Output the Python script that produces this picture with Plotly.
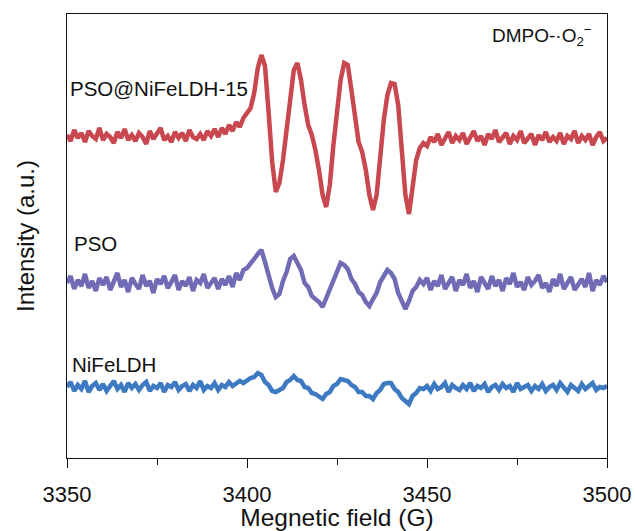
import numpy as np
import plotly.graph_objects as go

# Magnetic field axis (G), 1 G steps
field = list(range(3350, 3501))

# Intensity (a.u.)
red = [
    323,317,328,320,325,316,327,322,319,330,
    318,324,321,315,326,320,329,318,323,317,
    325,321,314,327,319,324,330,318,322,316,
    326,320,325,317,328,321,319,324,318,327,
    322,329,321,330,324,333,327,336,331,340,
    345,350,365,390,403,392,346,296,266,275,
    298,328,363,388,395,378,353,333,323,308,
    288,263,251,273,313,348,378,395,393,368,
    338,316,306,288,263,248,263,303,338,363,
    375,374,353,308,263,244,268,298,310,315,
    312,321,316,324,313,320,326,315,322,318,
    325,314,320,327,317,322,313,324,319,328,
    316,321,325,314,322,318,327,315,320,324,
    313,323,318,326,316,321,317,325,314,322,
    319,327,315,322,318,324,313,321,326,317,
    320,
]
purple = [
    175,182,169,178,172,184,170,177,167,180,
    173,181,168,176,185,171,178,166,180,174,
    169,183,172,177,165,179,174,182,170,176,
    183,168,177,172,181,167,178,175,184,170,
    176,180,169,179,173,182,171,185,178,188,
    190,194,199,204,208,196,182,170,161,164,
    177,186,199,202,195,188,175,171,162,159,
    156,151,160,166,178,186,195,193,189,179,
    174,166,163,156,152,159,165,176,182,188,
    185,179,165,156,149,157,167,171,178,174,
    180,168,177,172,183,169,176,181,167,178,
    173,184,170,177,166,181,175,169,182,172,
    178,167,180,174,185,171,176,168,181,173,
    177,183,170,175,166,179,172,184,169,176,
    181,168,174,179,171,185,167,178,173,182,
    176,
]
blue = [
    71,76,67,73,69,77,66,72,75,68,
    74,67,72,77,69,73,66,75,70,74,
    68,73,76,67,72,70,75,66,73,71,
    76,68,72,74,67,73,70,77,68,72,
    70,75,68,73,71,76,72,74,77,75,
    78,80,81,85,83,76,73,67,66,68,
    70,76,78,82,78,77,71,70,65,64,
    62,59,64,66,72,74,79,78,77,73,
    71,66,66,62,62,59,65,68,74,75,
    75,69,66,60,57,54,62,65,70,69,
    72,67,74,69,71,75,66,73,70,68,
    73,69,75,67,72,70,74,66,71,73,
    68,74,70,72,66,75,69,71,73,67,
    72,69,74,67,71,73,68,75,70,66,
    73,70,67,74,69,72,75,68,71,70,
    72,
]

series_names = ["PSO@NiFeLDH-15", "PSO", "NiFeLDH"]
series_values = [red, purple, blue]
series_colors = ["#C9474F", "#6F6BB5", "#3D7AC2"]
label_pos = [(3350.3, 370), (3351.3, 215), (3350.8, 94)]

FONT = "Liberation Sans, Arial, sans-serif"
INK = "#111111"

fig = go.Figure()
for name, vals, col in zip(series_names, series_values, series_colors):
    fig.add_trace(go.Scatter(x=field, y=vals, mode="lines", name=name,
                             line=dict(color=col, width=4.5), showlegend=False))

for name, (lx, ly) in zip(series_names, label_pos):
    fig.add_annotation(x=lx, y=ly, text=name, showarrow=False, xanchor="left",
                       yanchor="middle", font=dict(family=FONT, size=20.5, color=INK))

fig.add_annotation(x=3496.5, y=423, text="DMPO-·O<sub>2</sub><sup>−</sup>", showarrow=False,
                   xanchor="right", yanchor="middle",
                   font=dict(family=FONT, size=19, color=INK))

fig.update_layout(
    width=635, height=531,
    margin=dict(l=67, r=28, t=14, b=73),
    paper_bgcolor="white", plot_bgcolor="white",
    font=dict(family=FONT, color=INK),
    xaxis=dict(range=[3350, 3500], tickmode="linear", tick0=3350, dtick=50,
               ticks="outside", ticklen=9, tickwidth=1.3, tickcolor=INK,
               minor=dict(ticks="outside", dtick=25, ticklen=6, tickwidth=1.3, tickcolor=INK),
               showline=True, linecolor=INK, linewidth=1.3, mirror=True,
               showgrid=False, zeroline=False, automargin=False,
               ticklabelstandoff=7,
               tickfont=dict(family=FONT, size=22),
               title=dict(text="Megnetic field (G)", font=dict(family=FONT, size=24.5), standoff=6)),
    yaxis=dict(range=[0, 444], showticklabels=False, ticks="",
               showline=True, linecolor=INK, linewidth=1.3, mirror=True,
               showgrid=False, zeroline=False, automargin=False,
               title=dict(text="Intensity (a.u.)", font=dict(family=FONT, size=24), standoff=24)),
)

fig.write_html("out.html")
